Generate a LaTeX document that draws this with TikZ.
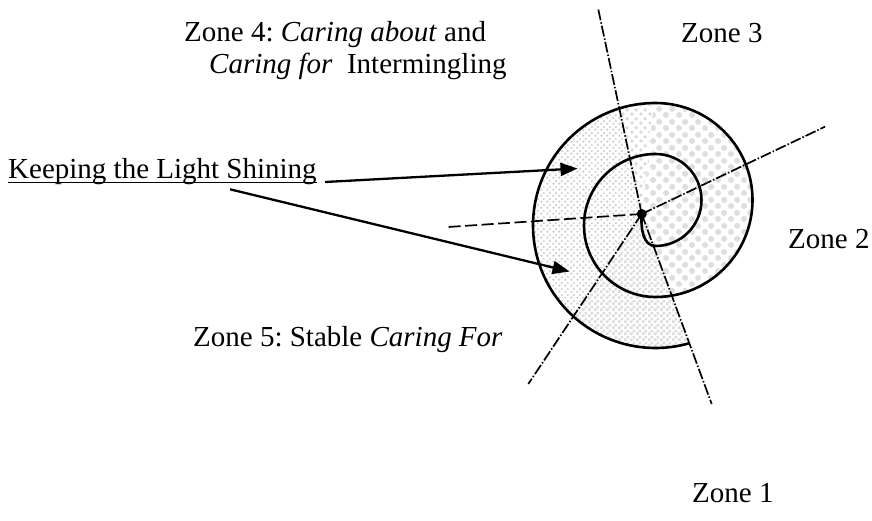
\documentclass[tikz,border=0pt]{standalone}
\usepackage{fontspec}
\setmainfont{Liberation Serif}[ItalicFont={Liberation Serif Italic}]
\usetikzlibrary{arrows.meta,patterns}

\pgfdeclarepatternformonly{bigdots}{\pgfpointorigin}{\pgfpoint{13pt}{13pt}}{\pgfpoint{13pt}{13pt}}{%
  \pgfpathcircle{\pgfpoint{3.25pt}{3.25pt}}{3.2pt}%
  \pgfpathcircle{\pgfpoint{9.75pt}{9.75pt}}{3.2pt}%
  \pgfusepath{fill}}
\pgfdeclarepatternformonly{meddots}{\pgfpointorigin}{\pgfpoint{9pt}{9pt}}{\pgfpoint{9pt}{9pt}}{%
  \pgfpathcircle{\pgfpoint{2.25pt}{2.25pt}}{2.1pt}%
  \pgfpathcircle{\pgfpoint{6.75pt}{6.75pt}}{2.1pt}%
  \pgfusepath{fill}}
\pgfdeclarepatternformonly{smalldots}{\pgfpointorigin}{\pgfpoint{6pt}{6pt}}{\pgfpoint{6pt}{6pt}}{%
  \pgfpathcircle{\pgfpoint{1.5pt}{1.5pt}}{1.4pt}%
  \pgfpathcircle{\pgfpoint{4.5pt}{4.5pt}}{1.4pt}%
  \pgfusepath{fill}}
\pgfdeclarepatternformonly{finecheck}{\pgfpointorigin}{\pgfpoint{6pt}{6pt}}{\pgfpoint{6pt}{6pt}}{%
  \pgfpathrectangle{\pgfpointorigin}{\pgfpoint{3pt}{3pt}}%
  \pgfpathrectangle{\pgfpoint{3pt}{3pt}}{\pgfpoint{3pt}{3pt}}%
  \pgfusepath{fill}}

\begin{document}
\frenchspacing
\begin{tikzpicture}[x=1pt,y=1pt,
  lbl/.style={font=\fontsize{29}{34}\selectfont, inner sep=0pt, anchor=base west},
  spiralline/.style={line width=2.6pt},
  zoneline/.style={line width=1.7pt, dash pattern=on 11pt off 2pt on 1.5pt off 2pt},
  pointer/.style={line width=2.3pt, -{Triangle[length=17pt,width=13pt]}},
  sep/.style={white, line width=0.8pt},
]
\useasboundingbox (0,0) rectangle (872,-521);

% centre and line ends
\coordinate (c) at (641.7,-214);
\coordinate (eup) at (598,-8);
\coordinate (eur) at (825,-126.7);
\coordinate (eleft) at (448,-227);
\coordinate (edl) at (528.3,-384);
\coordinate (edr) at (711.7,-404);

% shaded spiral body
\begin{scope}
  \clip (671.84,-295.61) arc[start angle=279.7, end angle=450, radius=97]
        arc[start angle=90, end angle=286, radius=122.5] -- cycle;
  \fill[pattern=smalldots, pattern color=black!20]
    (c) -- +(102.4:300) arc[start angle=102.4, end angle=236.3, radius=300] -- cycle;
  \fill[pattern=meddots, pattern color=black!15]
    (c) -- +(84:300) arc[start angle=84, end angle=102.4, radius=300] -- cycle;
  \fill[pattern=bigdots, pattern color=black!13]
    (c) -- +(-69.8:300) arc[start angle=-69.8, end angle=84, radius=300] -- cycle;
  \fill[pattern=finecheck, pattern color=black!14]
    (c) -- +(236.3:300) arc[start angle=236.3, end angle=290.2, radius=300] -- cycle;
  \draw[sep] (c) -- +(84:130);
  \draw[sep] (c) -- +(150:130);
\end{scope}

% spiral
\draw[spiralline] (c)
  .. controls (640.5,-228) and (643,-246) .. (655.5,-246)
  arc[start angle=270, end angle=450, radius=46]
  arc[start angle=90, end angle=270, radius=71.5]
  arc[start angle=270, end angle=450, radius=97]
  arc[start angle=90, end angle=286, radius=122.5];

% zone boundary lines
\draw[zoneline] (c) -- (eup);
\draw[zoneline] (c) -- (eur);
\draw[zoneline, dash pattern=on 12pt off 4.5pt] (c) -- (eleft);
\draw[zoneline] (c) -- (edl);
\draw[zoneline] (c) -- (edr);

\fill (c) circle[radius=5];

% labels
\node[lbl] (z4a) at (184,-42) {Zone 4: \textit{Caring about} and};
\node[lbl] (z4b) at (209,-74) {\textit{Caring for}\ \ Intermingling};
\node[lbl] (z3) at (681,-43) {Zone 3};
\node[lbl] (z2) at (788,-248) {Zone 2};
\node[lbl] (z5) at (193,-346) {Zone 5: Stable \textit{Caring For}};
\node[lbl] (z1) at (692,-502) {Zone 1};
\node[lbl] (kl) at (8,-179) {Keeping the Light Shining};
\draw[line width=1.6pt] ([yshift=-3.5pt]kl.base west) -- ([yshift=-3.5pt]kl.base east);

% pointers
\coordinate (a1s) at (325,-182);
\coordinate (a1e) at (577.5,-168.5);
\coordinate (a2s) at (230,-189.3);
\coordinate (a2e) at (569.5,-271.5);
\draw[pointer] (a1s) -- (a1e);
\draw[pointer] (a2s) -- (a2e);
\end{tikzpicture}
\end{document}
